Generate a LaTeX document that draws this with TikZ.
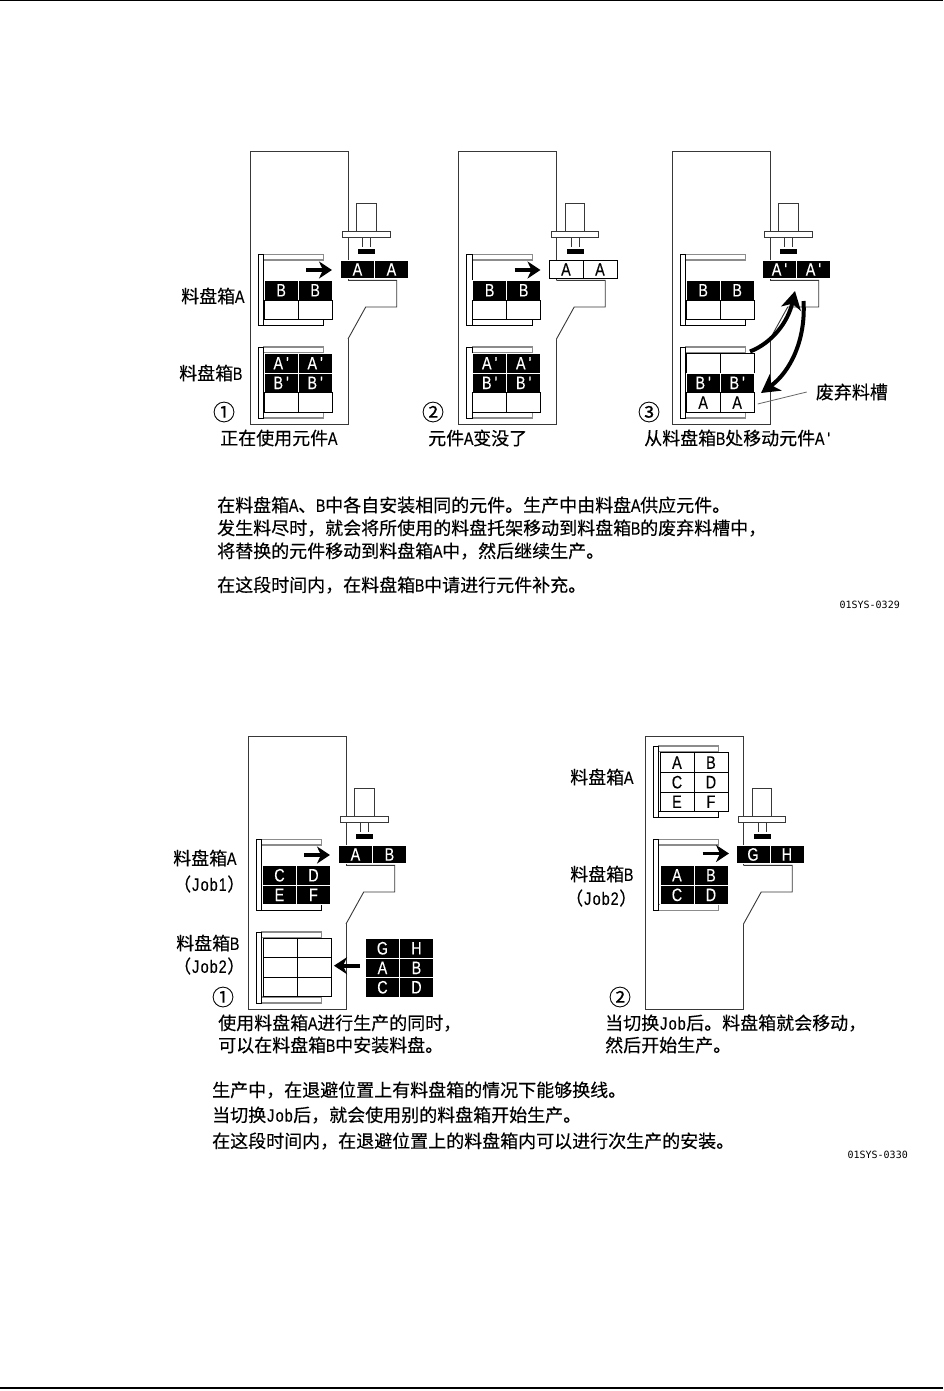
\documentclass[tikz,border=0pt]{standalone}
\usepackage{fontspec}
\usetikzlibrary{arrows.meta}
\setmainfont[FakeBold=0.2]{Noto Sans CJK SC}
\newfontfamily\latfont[FakeStretch=0.8,FakeBold=0.2]{Liberation Sans}
\newfontfamily\codefont{DejaVu Sans Mono}
\newcommand\ltn[1]{\makebox[9pt][c]{\latfont #1}}
\tikzset{
  label text/.style={anchor=west,inner sep=0pt,font=\fontsize{18}{18}\selectfont,text=black},
  code text/.style={anchor=east,inner sep=0pt,font=\fontsize{10}{10}\codefont,text=black},
  num text/.style={inner sep=0pt,font=\fontsize{22}{22}\selectfont,text=black},
  outline/.style={draw=black!78,line width=0.9pt},
  railgrey/.style={draw=black!45,line width=1.1pt,fill=white},
  raildark/.style={draw=black,line width=1pt,fill=white},
  plate/.style={draw=black,line width=1pt,fill=white},
  blackcell/.style={draw=white,line width=0.9pt,fill=black,text=white,minimum width=34pt,minimum height=19.6pt,inner sep=0pt,font=\fontsize{18}{18}\latfont},
  whitecell/.style={draw=black,line width=0.9pt,fill=white,text=black,minimum width=34pt,minimum height=19.6pt,inner sep=0pt,font=\fontsize{18}{18}\latfont},
  moveArrow/.style={line width=3.8pt,-{Stealth[length=13pt,width=17pt,inset=4pt]}},
  swingArrow/.style={line width=4pt,-{Stealth[length=18pt,width=20pt,inset=5pt]}},
  pagerule/.style={draw=black,line width=1.2pt}
}
% name, left, top, style1, text1, text2
\newcommand\cellrow[6]{%
  \node[#4,anchor=north west] (#1a) at (#2,#3) {#5};
  \node[#4,anchor=north west] (#1b) at (#2+34,#3) {#6};
}
% name, plate x, plate y, bottom rail style
\newcommand\cassette[4]{%
  \path[railgrey] (#2+5.4,#3) rectangle (#2+65.4,#3+5.7);
  \path[#4] (#2+5.4,#3+65) rectangle (#2+65.4,#3+71);
  \path[plate] (#2,#3) rectangle (#2+5.4,#3+71);
}
% frame and placing head; shift dx, dy; head-tray style and texts
\newcommand\machine[6]{%
  \begin{scope}[shift={(#1,#2)}]
    \draw[outline] (250.3,151.5) rectangle (348,424);
    \fill[white] (347,280.3) -- (396.7,280.3) -- (396.7,307) -- (365.7,307) -- (348,339) -- (347,339) -- cycle;
    \draw[outline] (348,280.3) -- (396.7,280.3) -- (396.7,307) -- (365.7,307) -- (348,339);
    \draw[outline,fill=white] (356.7,203) rectangle (376.3,231);
    \draw[outline] (362.7,237) -- (362.7,247) (370.7,237) -- (370.7,247);
    \draw[outline,fill=white] (342.7,231) rectangle (390.3,237);
    \fill[black] (358,248.7) rectangle (375,254);
    \cellrow{#3}{340}{260}{#4,minimum height=18pt}{#5}{#6}
  \end{scope}%
}
\begin{document}
\begin{tikzpicture}[x=1pt,y=-1pt]
\useasboundingbox (0,0) rectangle (943,1391);
\fill[white] (0,0) rectangle (943,1391);
\coordinate (ruleTopL) at (0,0.6); \coordinate (ruleTopR) at (943,0.6);
\coordinate (ruleBotL) at (0,1388); \coordinate (ruleBotR) at (943,1388);
\draw[pagerule] (ruleTopL) -- (ruleTopR);
\draw[pagerule] (ruleBotL) -- (ruleBotR);

% ---------- upper panel 1
\machine{0}{0}{pa}{blackcell}{A}{A}
\cassette{pac}{258.3}{254.3}{raildark}
\cellrow{pab}{263.7}{280}{blackcell}{B}{B}
\cellrow{pbb}{263.7}{299.6}{whitecell}{}{}
\cassette{pbc}{258.3}{347}{railgrey}
\cellrow{pc}{263.7}{353}{blackcell}{A\,'}{A\,'}
\cellrow{pd}{263.7}{372.6}{blackcell}{B\,'}{B\,'}
\cellrow{pe}{263.7}{392.3}{whitecell}{}{}
\coordinate (a1s) at (306,270); \coordinate (a1e) at (332,270);
\draw[moveArrow] (a1s) -- (a1e);

% ---------- upper panel 2
\machine{208.5}{0}{qa}{whitecell}{A}{A}
\cassette{qac}{466.8}{254.3}{raildark}
\cellrow{qab}{472.2}{280}{blackcell}{B}{B}
\cellrow{qbb}{472.2}{299.6}{whitecell}{}{}
\cassette{qbc}{466.8}{347}{railgrey}
\cellrow{qc}{472.2}{353}{blackcell}{A\,'}{A\,'}
\cellrow{qd}{472.2}{372.6}{blackcell}{B\,'}{B\,'}
\cellrow{qe}{472.2}{392.3}{whitecell}{}{}
\coordinate (a2s) at (514.5,270); \coordinate (a2e) at (540.5,270);
\draw[moveArrow] (a2s) -- (a2e);

% ---------- upper panel 3
\machine{422}{0}{ra}{blackcell}{A\,'}{A\,'}
\cassette{rac}{680.3}{254.3}{raildark}
\cellrow{rab}{685.7}{280}{blackcell}{B}{B}
\cellrow{rbb}{685.7}{299.6}{whitecell}{}{}
\cassette{rbc}{680.3}{347}{railgrey}
\cellrow{rc}{685.7}{353}{whitecell}{}{}
\cellrow{rd}{685.7}{372.6}{blackcell}{B\,'}{B\,'}
\cellrow{re}{685.7}{392.3}{whitecell}{A}{A}
\coordinate (s1s) at (750,351.5); \coordinate (s1e) at (795,291);
\coordinate (s2s) at (803.5,301); \coordinate (s2e) at (761,393);
\draw[swingArrow] (s1s) .. controls (772,343) and (788,322) .. (s1e);
\draw[swingArrow] (s2s) .. controls (806,340) and (790,372) .. (s2e);
\node[label text,inner xsep=9pt] (waste) at (806.7,392) {废弃料槽};
\coordinate (wasteEnd) at (757.7,404);
\draw[draw=black!60,line width=0.8pt] (waste.west) -- (wasteEnd);

% upper labels
\node[label text] (t1) at (181,296) {料盘箱\ltn{A}};
\node[label text] (t2) at (179,373) {料盘箱\ltn{B}};
\node[num text] (n1) at (224,412) {①};
\node[num text] (n2) at (433,412) {②};
\node[num text] (n3) at (649,412) {③};
\node[label text] (c1) at (220,438) {正在使用元件\ltn{A}};
\node[label text] (c2) at (428,438) {元件\ltn{A}变没了};
\node[label text] (c3) at (644,438) {从料盘箱\ltn{B}处移动元件\ltn{A}\ltn{'}};
\node[label text] (b1) at (217,505) {在料盘箱\ltn{A}、\ltn{B}中各自安装相同的元件。生产中由料盘\ltn{A}供应元件。};
\node[label text] (b2) at (217,528) {发生料尽时，就会将所使用的料盘托架移动到料盘箱\ltn{B}的废弃料槽中，};
\node[label text] (b3) at (217,551) {将替换的元件移动到料盘箱\ltn{A}中，然后继续生产。};
\node[label text] (b4) at (217,585) {在这段时间内，在料盘箱\ltn{B}中请进行元件补充。};
\node[code text] (code1) at (900,605) {01SYS-0329};

% ---------- lower panel 1
\machine{-2}{585}{sa}{blackcell}{A}{B}
\cassette{sac}{256.3}{839.3}{raildark}
\cellrow{sab}{262}{865}{blackcell}{C}{D}
\cellrow{sbb}{262}{884.6}{blackcell}{E}{F}
\cassette{sbc}{256.3}{932}{railgrey}
\cellrow{sc}{262.5}{937.6}{whitecell}{}{}
\cellrow{sd}{262.5}{957.2}{whitecell}{}{}
\cellrow{se}{262.5}{976.8}{whitecell}{}{}
\cellrow{ua}{365}{938}{blackcell}{G}{H}
\cellrow{ub}{365}{957.6}{blackcell}{A}{B}
\cellrow{uc}{365}{977}{blackcell}{C}{D}
\coordinate (a4s) at (304,855); \coordinate (a4e) at (330,855);
\draw[moveArrow] (a4s) -- (a4e);
\coordinate (a5s) at (360,965.7); \coordinate (a5e) at (334,965.7);
\draw[moveArrow] (a5s) -- (a5e);

% ---------- lower panel 2
\machine{395.5}{585}{va}{blackcell}{G}{H}
\cassette{vac}{653.5}{746}{raildark}
\cellrow{vab}{659.5}{752.3}{whitecell}{A}{B}
\cellrow{vbb}{659.5}{771.9}{whitecell}{C}{D}
\cellrow{vcb}{659.5}{791.5}{whitecell}{E}{F}
\cassette{vbc}{653.5}{839.3}{railgrey}
\cellrow{vd}{659.5}{865}{blackcell}{A}{B}
\cellrow{ve}{659.5}{884.6}{blackcell}{C}{D}
\coordinate (a6s) at (702.7,853.5); \coordinate (a6e) at (729,853.5);
\draw[moveArrow] (a6s) -- (a6e);

% lower labels
\node[label text] (l1) at (173,858) {料盘箱\ltn{A}};
\node[label text] (l2) at (173,884) {（\ltn{J}\ltn{o}\ltn{b}\ltn{1}）};
\node[label text] (l3) at (176,943) {料盘箱\ltn{B}};
\node[label text] (l4) at (173,966) {（\ltn{J}\ltn{o}\ltn{b}\ltn{2}）};
\node[label text] (l5) at (570,777) {料盘箱\ltn{A}};
\node[label text] (l6) at (570,874) {料盘箱\ltn{B}};
\node[label text] (l7) at (565,898) {（\ltn{J}\ltn{o}\ltn{b}\ltn{2}）};
\node[num text] (n4) at (223,997) {①};
\node[num text] (n5) at (620,997) {②};
\node[label text] (d1) at (218,1023) {使用料盘箱\ltn{A}进行生产的同时，};
\node[label text] (d2) at (218,1045) {可以在料盘箱\ltn{B}中安装料盘。};
\node[label text] (d3) at (605,1023) {当切换\ltn{J}\ltn{o}\ltn{b}后。料盘箱就会移动，};
\node[label text] (d4) at (605,1045) {然后开始生产。};
\node[label text] (e1) at (212,1090) {生产中，在退避位置上有料盘箱的情况下能够换线。};
\node[label text] (e2) at (212,1115) {当切换\ltn{J}\ltn{o}\ltn{b}后，就会使用别的料盘箱开始生产。};
\node[label text] (e3) at (212,1141) {在这段时间内，在退避位置上的料盘箱内可以进行次生产的安装。};
\node[code text] (code2) at (908,1155) {01SYS-0330};
\end{tikzpicture}
\end{document}
